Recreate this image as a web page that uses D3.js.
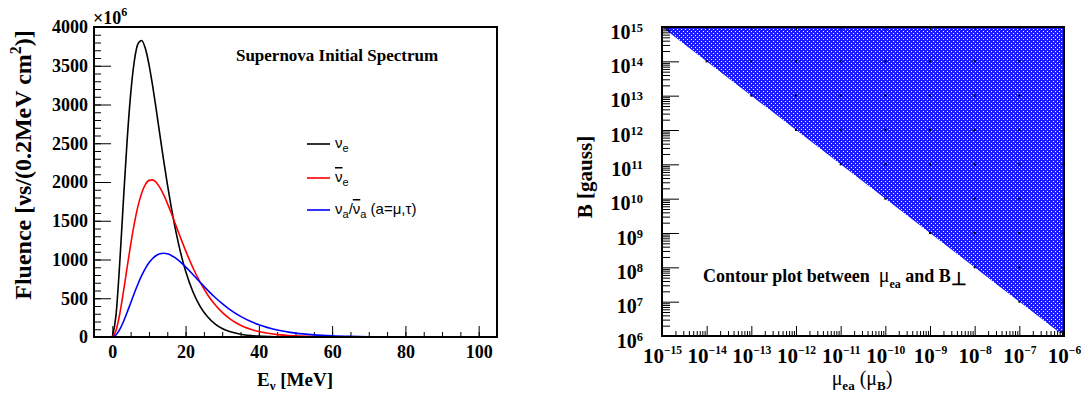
<!DOCTYPE html>
<html><head><meta charset="utf-8">
<script src="https://cdn.jsdelivr.net/npm/d3@7"></script>
<style>body{margin:0;background:#fff;} svg{display:block;}</style>
</head><body><svg id="c" width="1081" height="397"></svg>
<script>
// ---------------- data ----------------
const energy = [0,1,2,3,4,5,6,7,8,9,10,11,12,13,14,15,16,17,18,19,20,22,24,26,28,30,32,35,40,45,50,55,60,65,70,75,80,90,100];
const fluenceNuE = [0,278,935,1737,2505,3130,3558,3783,3826,3725,3518,3242,2930,2604,2283,1978,1697,1443,1218,1021,851,583,392,260,170,110,71,36,11,3.4,1.0,0.3,0.1,0,0,0,0,0,0];
const fluenceNuEBar = [0,82,290,573,885,1190,1463,1688,1856,1966,2021,2028,1994,1927,1836,1728,1609,1485,1359,1234,1115,894,704,546,418,317,238,152,70,31,14,5.8,2.5,1.0,0.4,0.2,0.07,0.01,0];
const fluenceNuX = [0,26,95,194,312,439,565,684,791,883,957,1013,1052,1073,1080,1073,1055,1027,992,950,905,806,704,605,513,430,357,266,157,90,50,28,15,7.9,4.1,2.1,1.1,0.3,0.07];
const seriesColors = ["#000000", "#ff0000", "#0000ff"];
const leftYTicks = [0,500,1000,1500,2000,2500,3000,3500,4000];
const leftXTicks = [0,20,40,60,80,100];

const muBoundary = [1e-15, 1e-6, 1e-6];
const bBoundary  = [1e15, 1e6, 1e15];
const rightXExponents = [-15,-14,-13,-12,-11,-10,-9,-8,-7,-6];
const rightYExponents = [6,7,8,9,10,11,12,13,14,15];

// ---------------- drawing ----------------
const svg = d3.select("#c");
const SERIF = "'Liberation Serif','Times New Roman',serif";
const SANS = "'Liberation Sans',Arial,sans-serif";

// ===== left panel =====
const x1 = d3.scaleLinear().domain([-5,105]).range([94,497]);
const y1 = d3.scaleLinear().domain([0,4000]).range([337,27]);

function styleAxis(g, size){
  g.select(".domain").remove();
  g.attr("font-family", SERIF).attr("font-weight","bold").attr("font-size", size);
  g.selectAll(".tick line").attr("stroke","#000").attr("stroke-width",1);
  g.selectAll(".tick text").attr("fill","#000");
}

svg.append("g").attr("transform","translate(94,0)")
  .call(d3.axisLeft(y1).tickValues(d3.range(0,4001,100)).tickSize(-7).tickFormat(""))
  .call(g=>styleAxis(g,18));
svg.append("g").attr("transform","translate(94,0)")
  .call(d3.axisLeft(y1).tickValues(leftYTicks).tickSize(-17).tickPadding(6).tickFormat(d3.format("d")))
  .call(g=>styleAxis(g,18));
svg.append("g").attr("transform","translate(0,337)")
  .call(d3.axisBottom(x1).tickValues(d3.range(0,101,5)).tickSize(-5).tickFormat(""))
  .call(g=>styleAxis(g,18));
svg.append("g").attr("transform","translate(0,337)")
  .call(d3.axisBottom(x1).tickValues(leftXTicks).tickSize(-11).tickPadding(8).tickFormat(d3.format("d")))
  .call(g=>styleAxis(g,18));

const line1 = d3.line().x((d,i)=>x1(energy[i])).y(d=>y1(d)).curve(d3.curveMonotoneX);
[fluenceNuE, fluenceNuEBar, fluenceNuX].forEach((s,k)=>{
  svg.append("path").datum(s).attr("d", line1).attr("fill","none")
    .attr("stroke", seriesColors[k]).attr("stroke-width",1.6);
});

svg.append("rect").attr("x",94).attr("y",27).attr("width",403).attr("height",310)
  .attr("fill","none").attr("stroke","#000").attr("stroke-width",2);

// x10^6
const mult = svg.append("text").attr("x",93).attr("y",24).attr("font-family",SERIF)
  .attr("font-weight","bold").attr("font-size",18);
mult.append("tspan").text("×10");
mult.append("tspan").attr("dy",-8).attr("font-size",12).text("6");

// title
svg.append("text").attr("x",337).attr("y",61).attr("text-anchor","middle")
  .attr("font-family",SERIF).attr("font-weight","bold").attr("font-size",17)
  .text("Supernova Initial Spectrum");

// y title
const yt = svg.append("text").attr("transform","translate(31,165) rotate(-90)")
  .attr("text-anchor","middle").attr("font-family",SERIF).attr("font-weight","bold").attr("font-size",24);
yt.append("tspan").text("Fluence [νs/(0.2MeV cm");
yt.append("tspan").attr("dy",-10).attr("font-size",16).text("2");
yt.append("tspan").attr("dy",10).text(")]");

// x title
const xt = svg.append("text").attr("x",295).attr("y",386).attr("text-anchor","middle")
  .attr("font-family",SERIF).attr("font-weight","bold").attr("font-size",19);
xt.append("tspan").text("E");
xt.append("tspan").attr("dy",4).attr("font-size",13).text("ν");
xt.append("tspan").attr("dy",-4).text(" [MeV]");

// legend
const legY = [144,178,210];
legY.forEach((ly,k)=>{
  svg.append("line").attr("x1",307).attr("x2",330).attr("y1",ly).attr("y2",ly)
    .attr("stroke",seriesColors[k]).attr("stroke-width",1.6);
});
function nuText(y, parts){
  const t = svg.append("text").attr("x",335).attr("y",y).attr("font-family",SANS).attr("font-size",15);
  parts.forEach(p=>{
    const ts = t.append("tspan").text(p.t);
    if(p.dy) ts.attr("dy",p.dy);
    if(p.fs) ts.attr("font-size",p.fs);
    if(p.over) ts.attr("text-decoration","overline");
  });
  return t;
}
nuText(legY[0]+4, [{t:"ν"},{t:"e",dy:4,fs:11}]);
nuText(legY[1]+4, [{t:"ν",over:true},{t:"e",dy:4,fs:11}]);
nuText(legY[2]+4, [{t:"ν"},{t:"a",dy:4,fs:11},{t:"/",dy:-4},{t:"ν",over:true},{t:"a",dy:4,fs:11},{t:" (a=μ,τ)",dy:-4}]);

// ===== right panel =====
const x2 = d3.scaleLog().domain([1e-15,1e-6]).range([662,1064]);
const y2 = d3.scaleLog().domain([1e6,1e15]).range([336,27]);

const defs = svg.append("defs");
const pat = defs.append("pattern").attr("id","dots").attr("patternUnits","userSpaceOnUse")
  .attr("width",4).attr("height",4);
pat.append("rect").attr("width",4).attr("height",4).attr("fill","#1c1cff");
[[1,1],[3,3]].forEach(([px,py])=>pat.append("rect").attr("x",px).attr("y",py)
  .attr("width",1).attr("height",1).attr("fill","#ffffff"));

const poly = d3.line().x((d,i)=>x2(muBoundary[i])).y((d,i)=>y2(bBoundary[i]));
svg.append("path").datum(muBoundary).attr("d", d=>poly(d)+"Z").attr("fill","url(#dots)");

const minorX = [], minorY = [];
rightXExponents.slice(0,-1).forEach(e=>{ for(let m=2;m<=9;m++) minorX.push(m*Math.pow(10,e)); });
rightYExponents.slice(0,-1).forEach(e=>{ for(let m=2;m<=9;m++) minorY.push(m*Math.pow(10,e)); });
const decX = rightXExponents.map(e=>Math.pow(10,e));
const decY = rightYExponents.map(e=>Math.pow(10,e));

// small dark dots at decade crossings inside the filled region
const crossings = [];
rightXExponents.slice(1,-1).forEach(ex=>rightYExponents.slice(1,-1).forEach(ey=>{
  if (ex + ey >= 0) crossings.push([Math.pow(10,ex), Math.pow(10,ey)]);
}));
svg.append("g").selectAll("rect").data(crossings).join("rect")
  .attr("x",d=>x2(d[0])-1).attr("y",d=>y2(d[1])-1).attr("width",2).attr("height",2).attr("fill","#000");

function supLabels(g, exps, anchorDy, supSize){
  g.selectAll(".tick text").each(function(d,i){
    const t = d3.select(this); t.text("");
    t.append("tspan").text("10");
    t.append("tspan").attr("dy", anchorDy).attr("font-size",supSize).text(String(exps[i]).replace("-","−"));
  });
}

svg.append("g").attr("transform","translate(662,0)")
  .call(d3.axisLeft(y2).tickValues(minorY).tickSize(-8).tickFormat(""))
  .call(g=>styleAxis(g,20));
svg.append("g").attr("transform","translate(662,0)")
  .call(d3.axisLeft(y2).tickValues(decY).tickSize(-17).tickPadding(19))
  .call(g=>{styleAxis(g,20); supLabels(g, rightYExponents, "-0.55em", "62%"); g.selectAll(".tick text").attr("dy","0.55em");});
svg.append("g").attr("transform","translate(0,336)")
  .call(d3.axisBottom(x2).tickValues(minorX).tickSize(-5).tickFormat(""))
  .call(g=>styleAxis(g,21));
svg.append("g").attr("transform","translate(0,336)")
  .call(d3.axisBottom(x2).tickValues(decX).tickSize(-10).tickPadding(12))
  .call(g=>{styleAxis(g,21); supLabels(g, rightXExponents, "-0.75em", "55%");});
// small ticks on top and right
svg.append("g").attr("transform","translate(0,27)")
  .call(d3.axisTop(x2).tickValues(decX).tickSize(-3).tickFormat(""))
  .call(g=>styleAxis(g,10));
svg.append("g").attr("transform","translate(1064,0)")
  .call(d3.axisRight(y2).tickValues(decY).tickSize(-3).tickFormat(""))
  .call(g=>styleAxis(g,10));

svg.append("rect").attr("x",662).attr("y",27).attr("width",402).attr("height",309)
  .attr("fill","none").attr("stroke","#000").attr("stroke-width",2);

// y title right
svg.append("text").attr("transform","translate(592,177) rotate(-90)").attr("text-anchor","middle")
  .attr("font-family",SERIF).attr("font-weight","bold").attr("font-size",21).text("B [gauss]");

// x title right
const xt2 = svg.append("text").attr("x",862).attr("y",385).attr("text-anchor","middle")
  .attr("font-family",SERIF).attr("font-size",20);
xt2.append("tspan").text("μ");
xt2.append("tspan").attr("dy",5).attr("font-size",13).attr("font-weight","bold").text("ea");
xt2.append("tspan").attr("dy",-5).text(" (μ");
xt2.append("tspan").attr("dy",5).attr("font-size",13).attr("font-weight","bold").text("B");
xt2.append("tspan").attr("dy",-5).text(")");

// contour label
const cl = svg.append("text").attr("x",703).attr("y",282).attr("font-family",SERIF)
  .attr("font-weight","bold").attr("font-size",18).style("white-space","pre");
cl.append("tspan").text("Contour plot between  ");
cl.append("tspan").attr("font-weight","normal").attr("font-size",20).text("μ");
cl.append("tspan").attr("dy",6).attr("font-size",12).text("ea");
cl.append("tspan").attr("dy",-6).text(" and B");
cl.append("tspan").attr("dy",3).text("⊥");
</script></body></html>
